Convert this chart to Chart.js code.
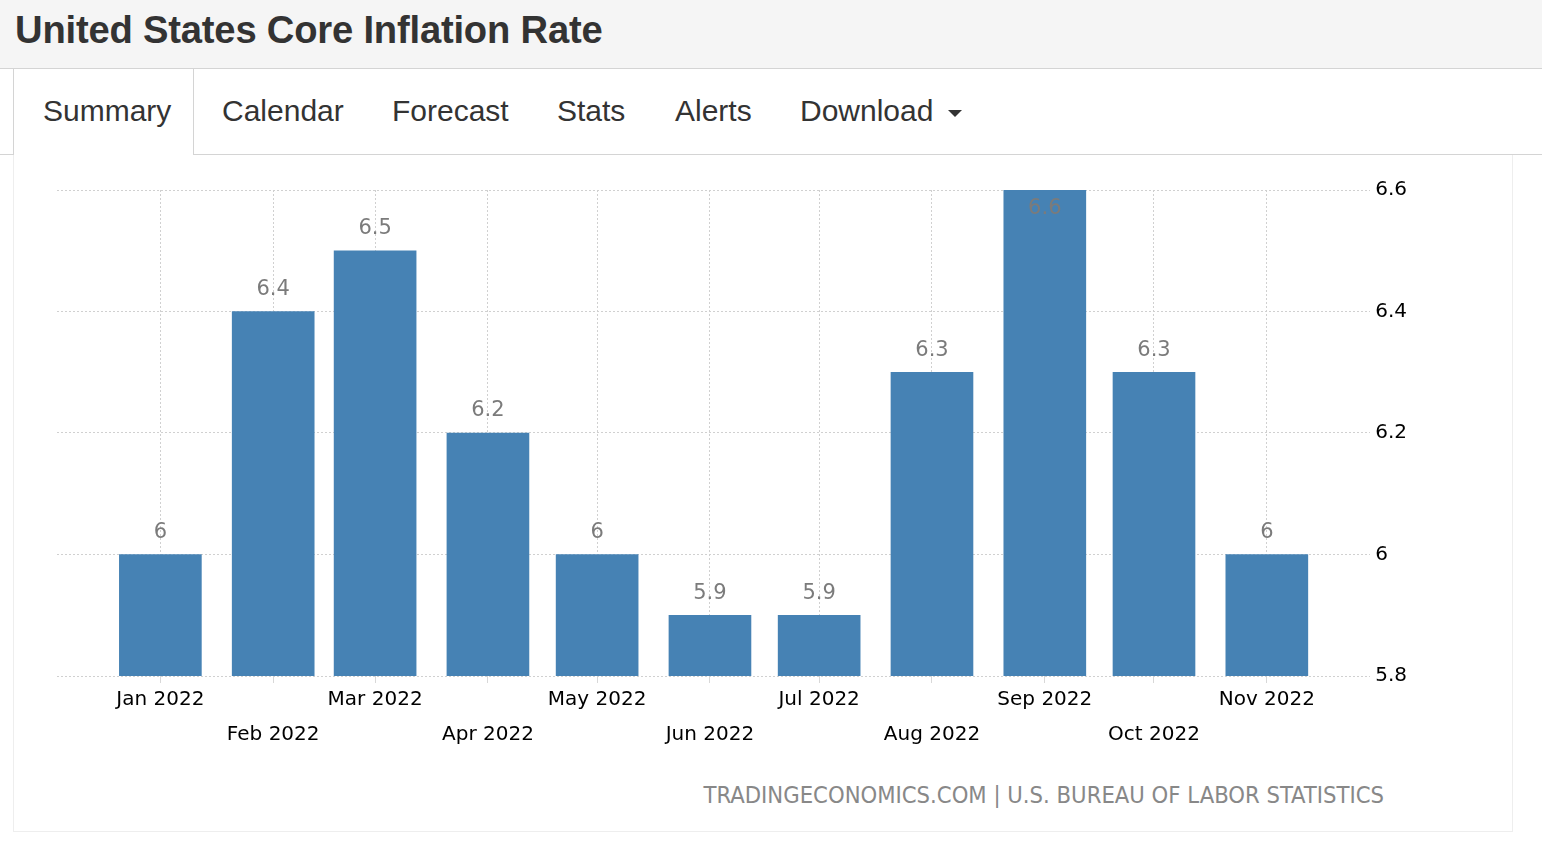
<!DOCTYPE html>
<html>
<head>
<meta charset="utf-8">
<title>United States Core Inflation Rate</title>
<script src="https://cdn.jsdelivr.net/npm/chart.js@4.4.0/dist/chart.umd.min.js"></script>
<style>
  body { margin: 0; width: 1542px; height: 850px; background: #fff; position: relative; overflow: hidden;
         font-family: "Liberation Sans", Arial, sans-serif; }
  .titlebar { position: absolute; left: 0; top: 0; width: 1542px; height: 68px; background: #f5f5f5;
              border-bottom: 1px solid #d4d4d4; }
  .titlebar h1 { margin: 0; position: absolute; left: 15px; top: 10px; font-size: 38.2px; line-height: 40px;
                 font-weight: bold; color: #333; letter-spacing: -0.2px; }
  .tabline { position: absolute; top: 154px; height: 1px; background: #d4d4d4; }
  .active { position: absolute; left: 13px; top: 69px; width: 179px; height: 86px; background: #fff;
            border-left: 1px solid #d4d4d4; border-right: 1px solid #d4d4d4; }
  .tab { position: absolute; top: 92px; font-size: 30px; line-height: 38px; color: #333; }
  .caret { position: absolute; left: 948px; top: 110px; width: 0; height: 0;
           border-left: 7px solid transparent; border-right: 7px solid transparent; border-top: 7px solid #333; }
  .panel { position: absolute; left: 13px; top: 155px; width: 1498px; height: 676px;
           border: 1px solid #eee; border-top: none; }
  #wrap { position: absolute; left: 14px; top: 155px; width: 1498px; height: 596px; }
  .credit { position: absolute; right: 158px; top: 780px; font-family: "DejaVu Sans Condensed", "DejaVu Sans", sans-serif;
            font-size: 23.6px; line-height: 30px; color: #888; white-space: nowrap; }
</style>
</head>
<body>
  <div class="titlebar"><h1>United States Core Inflation Rate</h1></div>
  <div class="tabline" style="left:0; width:14px"></div>
  <div class="tabline" style="left:192px; width:1350px"></div>
  <div class="panel"></div>
  <div class="active"></div>
  <div class="tab" style="left:43px">Summary</div>
  <div class="tab" style="left:222px">Calendar</div>
  <div class="tab" style="left:392px">Forecast</div>
  <div class="tab" style="left:557px">Stats</div>
  <div class="tab" style="left:675px">Alerts</div>
  <div class="tab" style="left:800px">Download</div>
  <div class="caret"></div>

  <div id="wrap"><canvas id="chart"></canvas></div>
  <div class="credit">TRADINGECONOMICS.COM | U.S. BUREAU OF LABOR STATISTICS</div>

<script>
/* ================== DATA ================== */
const months = ["Jan 2022", "Feb 2022", "Mar 2022", "Apr 2022", "May 2022", "Jun 2022",
                "Jul 2022", "Aug 2022", "Sep 2022", "Oct 2022", "Nov 2022"];
const dates = ["2022-01-01", "2022-02-01", "2022-03-01", "2022-04-01", "2022-05-01", "2022-06-01",
               "2022-07-01", "2022-08-01", "2022-09-01", "2022-10-01", "2022-11-01"];
const values = [6.0, 6.4, 6.5, 6.2, 6.0, 5.9, 5.9, 6.3, 6.6, 6.3, 6.0];
const yTicks = [5.8, 6.0, 6.2, 6.4, 6.6];

/* ================== HELPERS ================== */
// bars sit on a day axis so months keep their real spacing
const DAY = 86400000;
const start = Date.parse(dates[0]);
const days = dates.map(d => (Date.parse(d) - start) / DAY);

const barLabels = {
  id: "barLabels",
  afterDatasetsDraw(chart) {
    const ctx = chart.ctx;
    const meta = chart.getDatasetMeta(0);
    ctx.save();
    ctx.font = '21px "DejaVu Sans"';
    ctx.fillStyle = "#7b7b7b";
    ctx.textAlign = "center";
    ctx.textBaseline = "middle";
    meta.data.forEach((bar, i) => {
      let y = bar.y - 22;
      if (y < chart.chartArea.top) y = bar.y + 19;
      ctx.fillText(String(values[i]), bar.x, y);
    });
    ctx.restore();
  }
};

/* ================== CHART ================== */
new Chart(document.getElementById("chart"), {
  type: "bar",
  data: {
    datasets: [{
      label: "Core Inflation Rate",
      data: days.map((d, i) => ({ x: d, y: values[i] })),
      backgroundColor: "#4682b4",
      barThickness: 82
    }]
  },
  options: {
    responsive: true,
    maintainAspectRatio: false,
    animation: false,
    layout: { padding: { left: 43, top: 35, right: 100, bottom: 0 } },
    plugins: {
      legend: { display: false },
      tooltip: { enabled: false }
    },
    scales: {
      x: {
        type: "linear",
        min: -28.4,
        max: 332.4,
        offset: false,
        afterBuildTicks: scale => { scale.ticks = days.map(v => ({ value: v })); },
        grid: { offset: false, color: "#d0d0d0", tickLength: 7, tickColor: "#d8d8d8", tickBorderDash: [] },
        border: { display: false, dash: [2, 2] },
        ticks: {
          autoSkip: false,
          maxRotation: 0,
          padding: -1,
          color: "#000",
          font: { family: "DejaVu Sans", size: 20, lineHeight: "35px" },
          callback: (v, i) => i % 2 ? ["", months[i]] : months[i]
        }
      },
      y: {
        position: "right",
        min: 5.8,
        max: 6.6,
        afterBuildTicks: scale => { scale.ticks = yTicks.map(v => ({ value: v })); },
        grid: { color: "#d0d0d0", drawTicks: false },
        border: { display: false, dash: [2, 2] },
        ticks: {
          padding: 5,
          color: "#000",
          font: { family: "DejaVu Sans", size: 20 },
          callback: v => String(+v.toFixed(1))
        }
      }
    }
  },
  plugins: [barLabels]
});
</script>
</body>
</html>
